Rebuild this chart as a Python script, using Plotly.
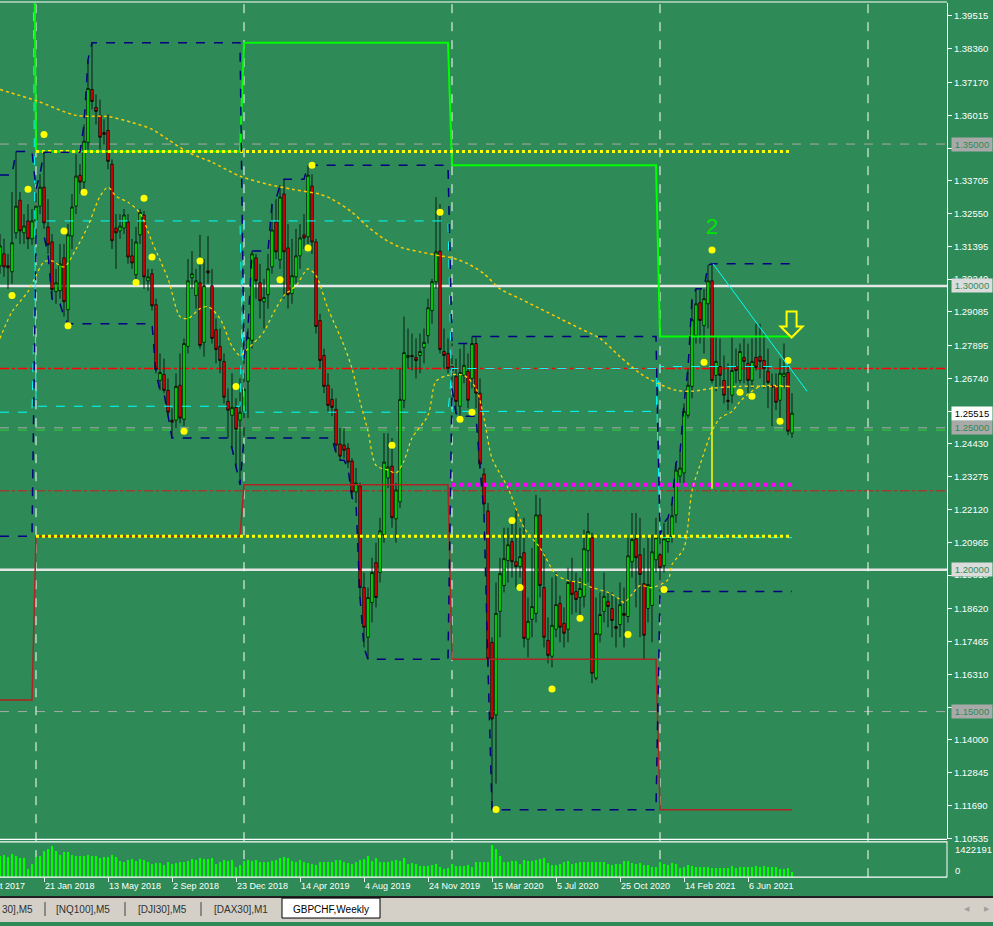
import pandas as pd
import plotly.graph_objects as go

W, H = 993, 926
PLOT_R = 947          # right edge of the chart area (px)
FONT = "Liberation Sans"
BG = "#2E8B57"

def px_x(p):
    return p / W

def px_y(p):
    return 1 - p / H

# ---------------- data: GBPCHF weekly ----------------
dates = pd.date_range("2017-11-05", periods=199, freq="7D")

opens = [
    1.3071, 1.3113, 1.3071, 1.3050, 1.3187, 1.3302, 1.3187, 1.3229, 1.3166, 1.3229,
    1.3281, 1.3348, 1.3208, 1.3155, 1.2980, 1.2983, 1.3099, 1.2916, 1.3176, 1.3281,
    1.3390, 1.3366, 1.3506, 1.3692, 1.3629, 1.3601, 1.3541, 1.3548, 1.3429, 1.3204,
    1.3194, 1.3204, 1.3225, 1.3106, 1.3039, 1.3180, 1.3250, 1.3018, 1.3043, 1.2934,
    1.2667, 1.2688, 1.2632, 1.2527, 1.2527, 1.2650, 1.2530, 1.2787, 1.3029, 1.2966,
    1.3011, 1.2801, 1.3053, 1.3001, 1.2846, 1.2787, 1.2734, 1.2593, 1.2544, 1.2572,
    1.2527, 1.2558, 1.2664, 1.2808, 1.3099, 1.3011, 1.2944, 1.2969, 1.3067, 1.3225,
    1.3092, 1.3324, 1.3134, 1.2973, 1.3032, 1.3106, 1.3180, 1.3173, 1.3352, 1.3155,
    1.2878, 1.2755, 1.2650, 1.2600, 1.2565, 1.2443, 1.2439, 1.2428, 1.2383, 1.2274,
    1.2295, 1.1937, 1.1762, 1.1884, 1.2025, 1.1990, 1.2123, 1.2323, 1.2365, 1.2179,
    1.2239, 1.2597, 1.2748, 1.2755, 1.2748, 1.2755, 1.2783, 1.2825, 1.2913, 1.3015,
    1.3123, 1.2769, 1.2762, 1.2716, 1.2681, 1.2576, 1.2685, 1.2699, 1.2674, 1.2797,
    1.2622, 1.2337, 1.2207, 1.1744, 1.1488, 1.1853, 1.1944, 1.2032, 1.2099, 1.2028,
    1.2011, 1.2060, 1.1755, 1.1825, 1.1846, 1.2193, 1.1937, 1.1751, 1.1695, 1.1790,
    1.1881, 1.1811, 1.1790, 1.1958, 1.1923, 1.1902, 1.1906, 1.2067, 1.2113, 1.1618,
    1.1772, 1.1853, 1.1888, 1.1863, 1.1800, 1.1807, 1.1846, 1.1835, 1.2028, 1.2109,
    1.2053, 1.1951, 1.1863, 1.1874, 1.2035, 1.2053, 1.2014, 1.2099, 1.2116, 1.2193,
    1.2330, 1.2341, 1.2544, 1.2646, 1.2825, 1.2941, 1.2860, 1.2937, 1.3018, 1.2685,
    1.2716, 1.2667, 1.2597, 1.2615, 1.2716, 1.2667, 1.2748, 1.2727, 1.2667, 1.2748,
    1.2751, 1.2737, 1.2699, 1.2650, 1.2650, 1.2597, 1.2681, 1.2695, 1.2481,
]
highs = [
    1.3183, 1.3166, 1.3113, 1.3331, 1.3474, 1.3331, 1.3253, 1.3288, 1.3271, 1.3341,
    1.3394, 1.3471, 1.3306, 1.3183, 1.3060, 1.3148, 1.3148, 1.3218, 1.3324, 1.3464,
    1.3429, 1.3569, 1.3797, 1.3857, 1.3675, 1.3657, 1.3587, 1.3604, 1.3446, 1.3253,
    1.3253, 1.3271, 1.3253, 1.3166, 1.3208, 1.3271, 1.3264, 1.3060, 1.3060, 1.2955,
    1.2762, 1.2744, 1.2674, 1.2569, 1.2692, 1.2762, 1.2815, 1.3095, 1.3123, 1.3060,
    1.3180, 1.3095, 1.3176, 1.3060, 1.2885, 1.2850, 1.2762, 1.2639, 1.2692, 1.2604,
    1.2674, 1.2744, 1.2850, 1.3123, 1.3113, 1.3078, 1.3025, 1.3113, 1.3288, 1.3306,
    1.3355, 1.3376, 1.3218, 1.3166, 1.3201, 1.3218, 1.3253, 1.3425, 1.3394, 1.3166,
    1.2902, 1.2779, 1.2692, 1.2639, 1.2604, 1.2499, 1.2499, 1.2446, 1.2393, 1.2358,
    1.2306, 1.1990, 1.1937, 1.2042, 1.2095, 1.2183, 1.2481, 1.2481, 1.2464, 1.2306,
    1.2709, 1.2892, 1.2850, 1.2832, 1.2815, 1.2832, 1.2850, 1.2955, 1.3025, 1.3313,
    1.3288, 1.2850, 1.2815, 1.2797, 1.2744, 1.2779, 1.2797, 1.2762, 1.2822, 1.2822,
    1.2674, 1.2358, 1.2235, 1.1762, 1.1955, 1.2042, 1.2148, 1.2148, 1.2183, 1.2218,
    1.2148, 1.2183, 1.1902, 1.2077, 1.2264, 1.2253, 1.2060, 1.1832, 1.1972, 1.1990,
    1.1909, 1.1867, 1.2007, 1.2042, 1.1990, 1.1972, 1.2141, 1.2200, 1.2130, 1.1902,
    1.1920, 1.1990, 1.1920, 1.1920, 1.1902, 1.1955, 1.1937, 1.2113, 1.2200, 1.2200,
    1.2183, 1.2077, 1.2113, 1.2123, 1.2183, 1.2123, 1.2165, 1.2183, 1.2235, 1.2376,
    1.2411, 1.2586, 1.2709, 1.2955, 1.2990, 1.2990, 1.2990, 1.3074, 1.3078, 1.2822,
    1.2815, 1.2755, 1.2727, 1.2822, 1.2779, 1.2797, 1.2815, 1.2797, 1.2815, 1.2867,
    1.2867, 1.2832, 1.2779, 1.2692, 1.2692, 1.2744, 1.2797, 1.2727, 1.2622,
]
lows = [
    1.3043, 1.3032, 1.2990, 1.3008, 1.3166, 1.3148, 1.3148, 1.3130, 1.3145, 1.3176,
    1.3253, 1.3201, 1.3113, 1.2955, 1.2937, 1.2955, 1.2892, 1.2867, 1.3130, 1.3253,
    1.3324, 1.3341, 1.3481, 1.3622, 1.3569, 1.3481, 1.3499, 1.3411, 1.3130, 1.3060,
    1.3166, 1.3183, 1.3078, 1.3060, 1.3008, 1.3148, 1.2990, 1.2983, 1.2913, 1.2692,
    1.2632, 1.2622, 1.2541, 1.2464, 1.2499, 1.2516, 1.2506, 1.2762, 1.2990, 1.2920,
    1.2779, 1.2751, 1.3008, 1.2797, 1.2727, 1.2692, 1.2586, 1.2464, 1.2428, 1.2358,
    1.2299, 1.2464, 1.2534, 1.2779, 1.2955, 1.2885, 1.2850, 1.2920, 1.3043, 1.3095,
    1.3060, 1.2955, 1.2920, 1.2937, 1.3008, 1.3060, 1.3130, 1.3148, 1.3113, 1.2832,
    1.2709, 1.2622, 1.2551, 1.2541, 1.2411, 1.2386, 1.2393, 1.2358, 1.2253, 1.2235,
    1.1902, 1.1726, 1.1684, 1.1814, 1.1867, 1.1955, 1.2095, 1.2288, 1.2148, 1.2095,
    1.2218, 1.2569, 1.2709, 1.2702, 1.2674, 1.2692, 1.2727, 1.2797, 1.2867, 1.2990,
    1.2762, 1.2709, 1.2692, 1.2639, 1.2551, 1.2541, 1.2657, 1.2569, 1.2639, 1.2569,
    1.2358, 1.2200, 1.1656, 1.1154, 1.1246, 1.1762, 1.1920, 1.1955, 1.1972, 1.1937,
    1.1972, 1.1726, 1.1691, 1.1762, 1.1814, 1.1902, 1.1726, 1.1670, 1.1656, 1.1762,
    1.1744, 1.1726, 1.1744, 1.1842, 1.1849, 1.1832, 1.1867, 1.1955, 1.1600, 1.1611,
    1.1744, 1.1814, 1.1797, 1.1762, 1.1726, 1.1762, 1.1726, 1.1814, 1.1972, 1.1867,
    1.1762, 1.1684, 1.1814, 1.1744, 1.1990, 1.1923, 1.1990, 1.2060, 1.2095, 1.2165,
    1.2306, 1.2306, 1.2534, 1.2604, 1.2797, 1.2797, 1.2762, 1.2850, 1.2657, 1.2629,
    1.2646, 1.2586, 1.2562, 1.2586, 1.2657, 1.2657, 1.2657, 1.2622, 1.2639, 1.2702,
    1.2674, 1.2639, 1.2569, 1.2506, 1.2562, 1.2534, 1.2639, 1.2474, 1.2464,
]
closes = [
    1.3141, 1.3067, 1.3064, 1.3152, 1.3281, 1.3194, 1.3211, 1.3166, 1.3229, 1.3281,
    1.3348, 1.3222, 1.3145, 1.2987, 1.3011, 1.3078, 1.2944, 1.3180, 1.3278, 1.3387,
    1.3366, 1.3510, 1.3696, 1.3650, 1.3615, 1.3524, 1.3534, 1.3439, 1.3159, 1.3187,
    1.3211, 1.3250, 1.3102, 1.3081, 1.3155, 1.3260, 1.3032, 1.3032, 1.2930, 1.2706,
    1.2695, 1.2632, 1.2555, 1.2520, 1.2646, 1.2534, 1.2797, 1.3018, 1.3043, 1.3018,
    1.2790, 1.3001, 1.3046, 1.2815, 1.2776, 1.2737, 1.2608, 1.2562, 1.2572, 1.2495,
    1.2555, 1.2636, 1.2818, 1.3113, 1.3018, 1.2948, 1.2959, 1.3060, 1.3197, 1.3120,
    1.3313, 1.3120, 1.2969, 1.3036, 1.3106, 1.3169, 1.3169, 1.3390, 1.3155, 1.2857,
    1.2737, 1.2646, 1.2579, 1.2572, 1.2439, 1.2400, 1.2421, 1.2379, 1.2274, 1.2306,
    1.1937, 1.1797, 1.1902, 1.1990, 1.1902, 1.2137, 1.2379, 1.2362, 1.2183, 1.2281,
    1.2600, 1.2765, 1.2755, 1.2751, 1.2737, 1.2769, 1.2801, 1.2923, 1.3015, 1.3120,
    1.2776, 1.2755, 1.2709, 1.2702, 1.2593, 1.2695, 1.2720, 1.2597, 1.2797, 1.2622,
    1.2372, 1.2232, 1.1684, 1.1474, 1.1846, 1.1986, 1.2039, 1.2088, 1.2028, 1.2011,
    1.2046, 1.1758, 1.1818, 1.1870, 1.2193, 1.1944, 1.1762, 1.1698, 1.1804, 1.1877,
    1.1797, 1.1776, 1.1955, 1.1913, 1.1895, 1.1934, 1.2074, 1.2134, 1.1635, 1.1776,
    1.1842, 1.1906, 1.1870, 1.1821, 1.1793, 1.1877, 1.1839, 1.2049, 1.2106, 1.2042,
    1.1983, 1.1769, 1.1948, 1.2063, 1.2113, 1.2007, 1.2109, 1.2113, 1.2190, 1.2351,
    1.2358, 1.2558, 1.2650, 1.2881, 1.2937, 1.2878, 1.2955, 1.3018, 1.2667, 1.2734,
    1.2685, 1.2615, 1.2593, 1.2702, 1.2702, 1.2769, 1.2734, 1.2667, 1.2734, 1.2713,
    1.2734, 1.2709, 1.2660, 1.2643, 1.2590, 1.2692, 1.2692, 1.2488, 1.25515,
]
# tick volume, thousands
volumes_k = [
    944, 972, 870, 1018, 914, 840, 825, 354, 575, 870, 944,
    1165, 1239, 1386, 1165, 972, 1091, 1120, 972, 914, 944,
    944, 972, 944, 914, 825, 870, 870, 972, 870, 723,
    678, 767, 796, 723, 796, 767, 678, 575, 604, 619,
    530, 678, 575, 619, 649, 678, 723, 796, 751, 840,
    796, 796, 840, 575, 649, 751, 723, 767, 457, 530,
    723, 767, 723, 751, 678, 649, 678, 723, 751, 840,
    870, 840, 723, 678, 751, 649, 619, 575, 530, 649,
    649, 678, 649, 751, 751, 678, 619, 575, 649, 767,
    796, 914, 723, 825, 678, 649, 678, 723, 767, 723,
    825, 575, 604, 575, 502, 472, 502, 530, 575, 428,
    354, 398, 575, 502, 502, 502, 530, 428, 678, 678,
    678, 678, 1422.191, 1239, 944,
    649, 678, 723, 723, 575,
    767, 693, 693, 767, 796, 825, 619, 530, 530, 575,
    649, 693, 575, 619, 649, 649, 678, 649, 649, 678,
    649, 575, 546, 575, 575, 723, 723, 604, 575, 604,
    546, 530, 457, 428, 649, 575, 530, 604, 575, 398,
    457, 530, 472, 457, 428, 428, 457, 398, 398, 398,
    398, 398, 502, 398, 457, 428, 428, 457, 502, 457,
    502, 457, 457, 428, 354, 354, 383, 235,
]

# yearly context from before the visible window
year_2016 = dict(open=1.4740, high=1.5200, low=1.1541, close=1.2555)
seed_2017 = dict(open=1.2576, high=1.3391, low=1.2118)

# moving averages (bar index, value)
slow_idx = [0, 9, 19, 27, 33, 38, 42, 47, 53, 60, 67, 73, 80, 83, 88, 92, 96, 100, 105, 110,
            113, 117, 121, 125, 130, 135, 140, 145, 150, 155, 160, 165, 169, 173, 178, 185, 193, 198]
slow_val = [1.3692, 1.3653, 1.3601, 1.3597, 1.3576, 1.3552, 1.3516, 1.3471, 1.3436, 1.3387,
            1.3358, 1.3341, 1.3323, 1.3306, 1.3260, 1.3208, 1.3166, 1.3137, 1.3120, 1.3106,
            1.3099, 1.3078, 1.3043, 1.2990, 1.2955, 1.2920, 1.2885, 1.2850, 1.2815, 1.2751,
            1.2692, 1.2653, 1.2632, 1.2629, 1.2639, 1.2646, 1.2646, 1.2646]
fast_idx = [0, 3, 7, 9, 11, 13, 16, 19, 22, 25, 27, 29, 32, 35, 38, 42, 45, 47, 50, 52,
            55, 58, 60, 62, 66, 68, 71, 74, 77, 79, 82, 86, 88, 90, 92, 94, 97, 99, 101, 103,
            107, 109, 112, 116, 119, 121, 123, 127, 131, 135, 139, 142, 145, 148, 152, 155, 156,
            158, 160, 163, 167, 168, 171, 173, 175, 178, 180, 183, 185, 188, 190, 193, 197]
fast_val = [1.2815, 1.2909, 1.2980, 1.3036, 1.3085, 1.3088, 1.3067, 1.3130, 1.3211, 1.3316,
            1.3348, 1.3316, 1.3295, 1.3257, 1.3155, 1.3025, 1.2892, 1.2885, 1.2920, 1.2927,
            1.2885, 1.2787, 1.2755, 1.2779, 1.2839, 1.2895, 1.2966, 1.3001, 1.3060, 1.3036,
            1.2920, 1.2790, 1.2709, 1.2593, 1.2488, 1.2368, 1.2351, 1.2341, 1.2383, 1.2464,
            1.2544, 1.2664, 1.2685, 1.2685, 1.2639, 1.2534, 1.2393, 1.2288, 1.2148, 1.2077,
            1.1983, 1.1962, 1.1955, 1.1937, 1.1920, 1.1895, 1.1884, 1.1913, 1.1944, 1.1937,
            1.1965, 1.2018, 1.2077, 1.2278, 1.2369, 1.2488, 1.2534, 1.2558, 1.2593, 1.2629,
            1.2646, 1.2650, 1.2646]

# fractal markers (bar index, price)
frac_idx = [11, 7, 21, 16, 36, 38, 50, 34, 3, 17, 46, 59, 70, 77, 78, 110, 98, 115, 118, 128,
            130, 145, 157, 138, 124, 166, 178, 176, 185, 188, 197, 195]
frac_val = [1.3534, 1.3341, 1.3330, 1.3194, 1.3309, 1.3102, 1.3088, 1.3012, 1.2966, 1.2860,
            1.2488, 1.2646, 1.3022, 1.3134, 1.3425, 1.3260, 1.2439, 1.2530, 1.2555, 1.2173,
            1.1937, 1.1829, 1.1772, 1.1580, 1.1155, 1.1930, 1.3127, 1.2731, 1.2625, 1.2611,
            1.2737, 1.2523]

# horizontal levels
gray_levels = [1.35, 1.25, 1.15]
white_levels = [1.30, 1.20]
red_dashdot_levels = [1.2709, 1.2278]
green_dash_levels = [1.2492]
magenta_level = 1.2299
magenta_start = "2020-01-05"
year_separators = ["2018-01-07", "2019-01-06", "2020-01-05", "2021-01-03", "2022-01-02"]

# drawn objects
trend_weeks = [178.25, 201.75]
trend_vals = [1.3078, 1.2629]
vline_idx = 178
vline_vals = [1.2646, 1.2285]
wave_label = ("2", 178, 1.3208)
arrow_week, arrow_val = 197.9, 1.2864

price_ticks = [1.39515, 1.38360, 1.37170, 1.36015, 1.34860, 1.33705, 1.32550, 1.31395,
               1.30240, 1.29085, 1.27895, 1.26740, 1.25585, 1.24430, 1.23275, 1.22120,
               1.20965, 1.19810, 1.18620, 1.17465, 1.16310, 1.15155, 1.14000, 1.12845,
               1.11690, 1.10535]
date_labels = ["2017-10-01", "2018-01-21", "2018-05-13", "2018-09-02", "2018-12-23",
               "2019-04-14", "2019-08-04", "2019-11-24", "2020-03-15", "2020-07-05",
               "2020-10-25", "2021-02-14", "2021-06-06"]
tabs = [("30],M5", 0), ("[NQ100],M5", 54), ("[DJI30],M5", 136), ("[DAX30],M1", 212)]

# ---------------- derived yearly lines ----------------
years = list(dates.year)
stats = {2016: year_2016}
ytd_hi, ytd_lo = [], []
cur = None
run = None
for y, o, h, l, c in zip(years, opens, highs, lows, closes):
    if y != cur:
        cur = y
        run = dict(seed_2017) if y == 2017 else dict(open=o, high=h, low=l)
        stats[y] = run
    run["high"] = max(run["high"], h)
    run["low"] = min(run["low"], l)
    run["close"] = c
    ytd_hi.append(run["high"])
    ytd_lo.append(run["low"])

def prev(key):
    return [stats[y - 1][key] for y in years]

# ---------------- axes geometry ----------------
Y0, Y1 = 1.10497, 1.39971
XR0 = dates[0]
XR1 = dates[0] + pd.Timedelta(weeks=236.75)
XD = PLOT_R / W

def week_pos(w):
    return dates[0] + pd.Timedelta(weeks=w)

def date_paper(d):
    d = pd.Timestamp(d)
    return (d - XR0) / (XR1 - XR0) * XD

fig = go.Figure()

# previous-year open/close (cyan), high (lime), low (dark red)
for key in ("open", "close"):
    fig.add_trace(go.Scatter(x=dates, y=prev(key), mode="lines",
                             line=dict(color="#00FFFF", width=1, dash="dash"), hoverinfo="skip"))
fig.add_trace(go.Scatter(x=dates, y=prev("high"), mode="lines",
                         line=dict(color="#00FF00", width=2), hoverinfo="skip"))
fig.add_trace(go.Scatter(x=dates, y=prev("low"), mode="lines",
                         line=dict(color="#B22222", width=1.5), hoverinfo="skip"))
# 2017 extremes extended, magenta level
for v in (stats[2017]["high"], stats[2017]["low"]):
    fig.add_trace(go.Scatter(x=[dates[9], dates[-1]], y=[v, v], mode="lines",
                             line=dict(color="#FFFF00", width=3, dash="dot"), hoverinfo="skip"))
fig.add_trace(go.Scatter(x=[pd.Timestamp(magenta_start), dates[-1]], y=[magenta_level] * 2,
                         mode="lines", line=dict(color="#FF00FF", width=4, dash="dot"), hoverinfo="skip"))
# year-to-date high / low
for arr in (ytd_hi, ytd_lo):
    fig.add_trace(go.Scatter(x=dates, y=arr, mode="lines",
                             line=dict(color="#000080", width=1.5, dash="dash"), hoverinfo="skip"))
# moving averages
fig.add_trace(go.Scatter(x=[dates[i] for i in slow_idx], y=slow_val, mode="lines",
                         line=dict(color="#FFC800", width=1.5, dash="dot", shape="spline", smoothing=0.8),
                         hoverinfo="skip"))
fig.add_trace(go.Scatter(x=[dates[i] for i in fast_idx], y=fast_val, mode="lines",
                         line=dict(color="#FFD700", width=1.2, dash="dot", shape="spline", smoothing=0.8),
                         hoverinfo="skip"))

# candles
fig.add_trace(go.Candlestick(
    x=dates, open=opens, high=highs, low=lows, close=closes,
    increasing=dict(fillcolor="#00FF00", line=dict(color="black", width=0.8)),
    decreasing=dict(fillcolor="#FF0000", line=dict(color="black", width=0.8)),
    whiskerwidth=0, hoverinfo="skip", xaxis="x", yaxis="y"))

# fractals
fig.add_trace(go.Scatter(x=[dates[i] for i in frac_idx], y=frac_val, mode="markers",
                         marker=dict(color="#FFFF00", size=7, line=dict(width=0)), hoverinfo="skip"))

# trend line and vertical marker
fig.add_trace(go.Scatter(x=[week_pos(w) for w in trend_weeks], y=trend_vals, mode="lines",
                         line=dict(color="#00FFFF", width=1), hoverinfo="skip"))
fig.add_trace(go.Scatter(x=[dates[vline_idx]] * 2, y=vline_vals, mode="lines",
                         line=dict(color="#FFFF00", width=1.5), hoverinfo="skip"))

# volume
fig.add_trace(go.Bar(x=dates, y=volumes_k, xaxis="x", yaxis="y2",
                     marker=dict(color="#00FF00", line=dict(width=0)),
                     width=2.0 * 86400000, hoverinfo="skip"))

shapes = []
for v in gray_levels:
    shapes.append(dict(type="line", xref="paper", yref="y", x0=0, x1=XD, y0=v, y1=v,
                       line=dict(color="#A9A9A9", width=1, dash="dash"), layer="below"))
for v in white_levels:
    shapes.append(dict(type="line", xref="paper", yref="y", x0=0, x1=XD, y0=v, y1=v,
                       line=dict(color="#E6E6E6", width=2.5), layer="below"))
for i, v in enumerate(red_dashdot_levels):
    shapes.append(dict(type="line", xref="paper", yref="y", x0=0, x1=XD, y0=v, y1=v,
                       line=dict(color="#FF0000" if i == 0 else "#C81E1E", width=1.5 if i == 0 else 1,
                                 dash="dashdot"), layer="below"))
for v in green_dash_levels:
    shapes.append(dict(type="line", xref="paper", yref="y", x0=0, x1=XD, y0=v, y1=v,
                       line=dict(color="#32CD32", width=1, dash="dash"), layer="below"))
for d in year_separators:
    shapes.append(dict(type="line", xref="x", yref="paper", x0=d, x1=d, y0=px_y(881), y1=px_y(2),
                       line=dict(color="white", width=1, dash="dash"), layer="below"))
# frames
for yy in (2, 843, 845.5, 881):
    shapes.append(dict(type="line", xref="paper", yref="paper", x0=0, x1=XD, y0=px_y(yy), y1=px_y(yy),
                       line=dict(color="white", width=1.2), layer="above"))
shapes.append(dict(type="line", xref="paper", yref="paper", x0=XD, x1=XD, y0=px_y(881), y1=px_y(845),
                   line=dict(color="white", width=1), layer="above"))
# down arrow (outline)
shapes.append(dict(type="path", xref="x", yref="y", xsizemode="pixel", ysizemode="pixel",
                   xanchor=str(week_pos(arrow_week)), yanchor=arrow_val,
                   path="M -5 13 L 5 13 L 5 -2 L 11 -2 L 0 -13 L -11 -2 L -5 -2 Z",
                   line=dict(color="#FFFF00", width=2), fillcolor="rgba(0,0,0,0)", layer="above"))
# tab bar
shapes.append(dict(type="rect", xref="paper", yref="paper", x0=0, x1=1, y0=0, y1=px_y(900),
                   fillcolor="#D4D0C8", line=dict(width=0), layer="above"))
shapes.append(dict(type="line", xref="paper", yref="paper", x0=0, x1=1, y0=px_y(901), y1=px_y(901),
                   line=dict(color="#202020", width=2), layer="above"))
shapes.append(dict(type="rect", xref="paper", yref="paper", x0=px_x(282), x1=px_x(380),
                   y0=px_y(922), y1=px_y(902), fillcolor="white",
                   line=dict(color="black", width=1), layer="above"))
for sx in (45, 125, 201):
    shapes.append(dict(type="line", xref="paper", yref="paper", x0=px_x(sx), x1=px_x(sx),
                       y0=px_y(920), y1=px_y(906), line=dict(color="#404040", width=1), layer="above"))

ann = []
# price label boxes
box_levels = [(1.35, "#A9A9A9"), (1.30, "#DCDCDC"), (1.25, "#A9A9A9"), (1.20, "#DCDCDC"), (1.15, "#A9A9A9")]
for v, bg in box_levels:
    ann.append(dict(xref="paper", yref="y", x=px_x(951), y=v, xanchor="left", yanchor="middle",
                    text=f"{v:.5f}", showarrow=False, bgcolor=bg, borderpad=1, width=38,
                    font=dict(family=FONT, size=9.5, color=BG)))
ann.append(dict(xref="paper", yref="y", x=px_x(951), y=closes[-1], xanchor="left", yanchor="middle",
                text=f"{closes[-1]:.5f}", showarrow=False, bgcolor="white", borderpad=1, width=38,
                font=dict(family=FONT, size=9.5, color="black")))
# volume scale labels
ann.append(dict(xref="paper", yref="paper", x=px_x(953), y=px_y(853), xanchor="left", yanchor="middle",
                text=f"{round(max(volumes_k) * 1000)}", showarrow=False,
                font=dict(family=FONT, size=9.5, color="white")))
ann.append(dict(xref="paper", yref="paper", x=px_x(953), y=px_y(874), xanchor="left", yanchor="middle",
                text="0", showarrow=False, font=dict(family=FONT, size=9.5, color="white")))
# date labels
for d in date_labels:
    ts = pd.Timestamp(d)
    ann.append(dict(xref="paper", yref="paper", x=date_paper(ts) - 1 / W, y=px_y(890),
                    xanchor="left", yanchor="middle", text=f"{ts.day} {ts.strftime('%b %Y')}",
                    showarrow=False, font=dict(family=FONT, size=9, color="white")))
# wave label
ann.append(dict(xref="x", yref="y", x=dates[wave_label[1]], y=wave_label[2], text=wave_label[0],
                showarrow=False, font=dict(family=FONT, size=22, color="#00E600")))
# tabs
for t, x0 in tabs:
    ann.append(dict(xref="paper", yref="paper", x=px_x(x0), y=px_y(913), xanchor="left", yanchor="middle",
                    text=t, showarrow=False, font=dict(family=FONT, size=10, color="#303030")))
ann.append(dict(xref="paper", yref="paper", x=px_x(331), y=px_y(913), xanchor="center", yanchor="middle",
                text="GBPCHF,Weekly", showarrow=False, font=dict(family=FONT, size=10, color="black")))
for sx, s in ((967, "◀"), (987, "▶")):
    ann.append(dict(xref="paper", yref="paper", x=px_x(sx), y=px_y(913), xanchor="center", yanchor="middle",
                    text=s, showarrow=False, font=dict(family="DejaVu Sans", size=7, color="#A0A0A0")))

fig.update_layout(
    width=W, height=H, margin=dict(l=0, r=0, t=0, b=0),
    paper_bgcolor=BG, plot_bgcolor=BG, showlegend=False,
    shapes=shapes, annotations=ann, bargap=0, boxgap=0.12,
    xaxis=dict(type="date", domain=[0, XD], range=[XR0, XR1], anchor="y2",
               rangeslider=dict(visible=False), showgrid=False, zeroline=False, showline=False,
               ticks="outside", ticklen=4, tickcolor="white",
               tickvals=[pd.Timestamp(d) for d in date_labels], showticklabels=False, fixedrange=True),
    yaxis=dict(domain=[px_y(843), px_y(3)], range=[Y0, Y1], side="right", anchor="x",
               tickvals=price_ticks, ticktext=[f"{v:.5f}" for v in price_ticks],
               ticks="outside", ticklen=4, tickcolor="white",
               tickfont=dict(family=FONT, size=9.5, color="white"),
               showgrid=False, zeroline=False, showline=True, linecolor="white", linewidth=1,
               fixedrange=True),
    yaxis2=dict(domain=[px_y(881), px_y(846)], range=[0, 1550], anchor="x",
                showticklabels=False, showgrid=False, zeroline=False, fixedrange=True),
)

fig.write_html("out.html", config={"displayModeBar": False},
               post_script="document.body.style.margin='0px';document.body.style.overflow='hidden';")
